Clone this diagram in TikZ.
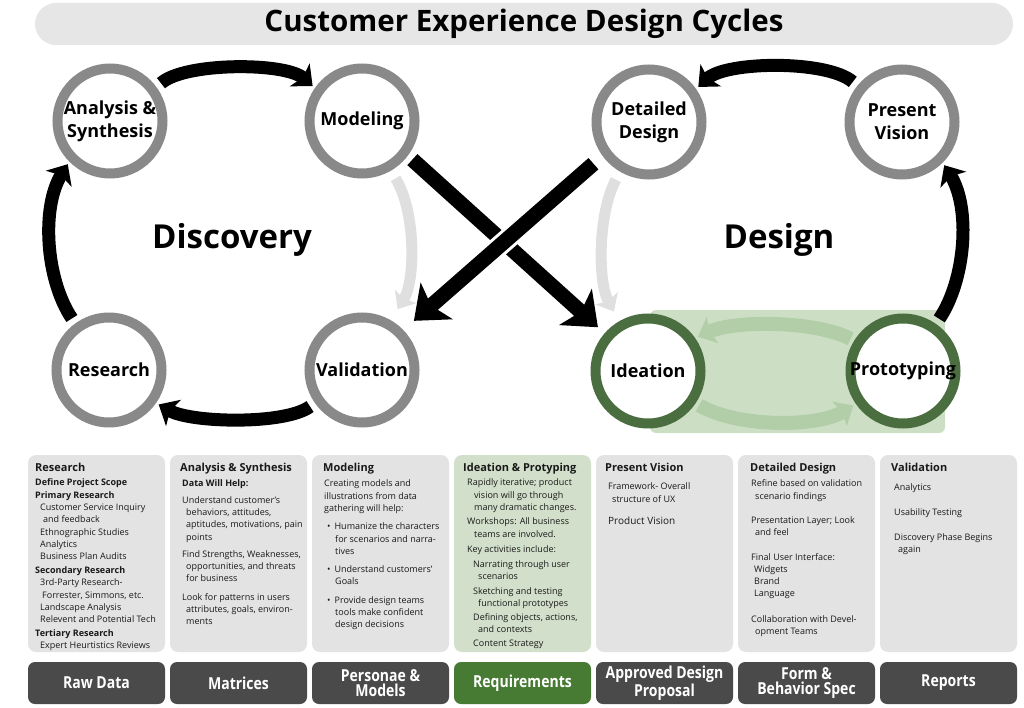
\documentclass[tikz,border=0pt]{standalone}
\usepackage{fontspec}
\setmainfont{Open Sans}
\newfontfamily\narrowfont[FakeStretch=0.85]{Open Sans}
\usetikzlibrary{arrows.meta}
\definecolor{ringgray}{HTML}{898989}
\definecolor{ringgreen}{HTML}{4B6E40}
\definecolor{titlegray}{HTML}{E6E6E6}
\definecolor{panelgray}{HTML}{E3E3E3}
\definecolor{panelgreen}{HTML}{D2E0CB}
\definecolor{boxgreen}{HTML}{CCDFC4}
\definecolor{arrowgreen}{HTML}{B2CEA8}
\definecolor{ghostgray}{HTML}{DFDFDF}
\definecolor{tabgray}{HTML}{4A4A4A}
\definecolor{tabgreen}{HTML}{477A32}
\newcommand\hd[1]{{\bfseries\fontsize{11}{12}\selectfont #1}}

\begin{document}
\begin{tikzpicture}
  [x=1pt,y=-1pt,
   stage/.style={circle,draw=ringgray,line width=10pt,fill=white,minimum size=105pt,
     inner sep=0pt,align=center,font=\bfseries\fontsize{18}{23}\selectfont},
   greenstage/.style={stage,draw=ringgreen},
   flow/.style={line width=13pt,-{Stealth[length=17pt,width=30pt,inset=4pt]},
     shorten <=6pt,shorten >=3pt},
   ghost/.style={draw=ghostgray,line width=11pt,-{Stealth[length=15pt,width=25pt,inset=3pt]}},
   loopback/.style={draw=arrowgreen,line width=14pt,-{Stealth[length=16pt,width=28pt,inset=3pt]},
     shorten <=4pt,shorten >=3pt},
   cross/.style={line width=15pt,-{Stealth[length=30pt,width=48pt,inset=7pt]}},
   phase/.style={font=\bfseries\fontsize{33}{36}\selectfont},
   panel/.style={rounded corners=8pt,fill=panelgray,minimum width=137pt,minimum height=197pt},
   note/.style={anchor=north west,align=left,inner sep=0pt,text=black!90,
     font=\fontsize{9}{12.3}\selectfont},
   tab/.style={rounded corners=7pt,fill=tabgray,minimum width=137pt,minimum height=42pt,
     text=white,align=center,font=\narrowfont\bfseries\fontsize{16.5}{15.5}\selectfont}]
  \useasboundingbox (0,0) rectangle (1024,708);
  \node[rounded corners=21pt,fill=titlegray,minimum width=978pt,minimum height=42pt,
    font=\bfseries\fontsize{29.5}{31}\selectfont] (title) at (524,24) {Customer Experience Design Cycles};
  \fill[boxgreen,rounded corners=6pt] (650,310) rectangle (945,433);
  \node[stage] (an) at (110,121) {Analysis \&\\Synthesis};
  \node[stage] (mo) at (362,121) {Modeling};
  \node[stage] (rs) at (109,370) {Research};
  \node[stage] (va) at (362,370) {\makebox[0pt]{Validation}};
  \node[stage] (dd) at (649,122) {Detailed\\Design};
  \node[stage] (pv) at (902,122) {Present\\Vision};
  \node[greenstage] (id) at (648,371) {Ideation};
  \node[greenstage] (pt) at (903,371) {\makebox[0pt]{Prototyping}};
  \node[phase] (disc) at (232,240) {Discovery};
  \node[phase] (desg) at (779,240) {Design};
  \foreach \from/\to/\ax/\ay/\bx/\by in {an.36/mo.145/28/-25/-30/-26,rs.126/an.225/-30/-45/-28/45,
      va.215/rs.325/-30/22/35/20,pv.141/dd.35/-30/-26/30/-28,pt.55/pv.315/30/-45/28/45}
    \draw[flow] (\from) .. controls +(\ax,\ay) and +(\bx,\by) .. (\to);
  \draw[ghost,shorten <=9pt,shorten >=13pt] (mo.300) .. controls +(25,40) and +(25,-40) .. (va.60);
  \draw[ghost,shorten <=9pt,shorten >=11pt] (dd.240) .. controls +(-22,40) and +(-22,-40) .. (id.120);
  \draw[loopback] (pt.148) .. controls +(-40,-20) and +(40,-18) .. (id.35);
  \draw[loopback] (id.326) .. controls +(40,24) and +(-40,24) .. (pt.215);
  \draw[cross,shorten <=6pt,shorten >=9pt] (mo.323) -- (id.139);
  \draw[white,line width=21pt,shorten <=40pt,shorten >=60pt] (dd.216) -- (va.44);
  \draw[cross,shorten <=12pt,shorten >=14pt] (dd.216) -- (va.44);
  \foreach \n/\x in {p1/96.5,p2/238.5,p3/380.5,p5/664.5,p6/806.5,p7/948.5}
    \node[panel] (\n) at (\x,553.5) {};
  \node[panel,fill=panelgreen] (p4) at (522.5,553.5) {};
  \node[note] (t1) at (35,463) {\hd{Research}\\[2pt]
    \textbf{Define Project Scope}\\
    \textbf{Primary Research}\\
    \hspace*{5pt}Customer Service Inquiry\\
    \hspace*{8pt}and feedback\\
    \hspace*{5pt}Ethnographic Studies\\
    \hspace*{5pt}Analytics\\
    \hspace*{5pt}Business Plan Audits\\[1.5pt]
    \textbf{Secondary Research}\\
    \hspace*{5pt}3rd-Party Research-\\
    \hspace*{7pt}Forrester, Simmons, etc.\\
    \hspace*{5pt}Landscape Analysis\\
    \hspace*{5pt}Relevent and Potential Tech\\[1.5pt]
    \textbf{Tertiary Research}\\
    \hspace*{5pt}Expert Heurtistics Reviews};
  \node[note] (t2) at (180,463) {\hd{Analysis \& Synthesis}\\[3pt]
    \hspace*{2pt}\textbf{Data Will Help:}\\[4pt]
    \hspace*{2pt}Understand customer's\\
    \hspace*{6pt}behaviors, attitudes,\\
    \hspace*{6pt}aptitudes, motivations, pain\\
    \hspace*{6pt}points\\[5pt]
    \hspace*{2pt}Find Strengths, Weaknesses,\\
    \hspace*{6pt}opportunities, and threats\\
    \hspace*{6pt}for business\\[6pt]
    \hspace*{2pt}Look for patterns in users\\
    \hspace*{6pt}attributes, goals, environ-\\
    \hspace*{6pt}ments};
  \node[note] (t3) at (323,463) {\hd{Modeling}\\[3pt]
    \hspace*{1pt}Creating models and\\
    \hspace*{1pt}illustrations from data\\
    \hspace*{1pt}gathering will help:\\[6pt]
    \hspace*{4pt}\textbullet\hspace{4pt}Humanize the characters\\
    \hspace*{12pt}for scenarios and narra-\\
    \hspace*{12pt}tives\\[6pt]
    \hspace*{4pt}\textbullet\hspace{4pt}Understand customers'\\
    \hspace*{12pt}Goals\\[6pt]
    \hspace*{4pt}\textbullet\hspace{4pt}Provide design teams\\
    \hspace*{12pt}tools make confident\\
    \hspace*{12pt}design decisions};
  \node[note] (t4) at (463,463) {\hd{Ideation \& Protyping}\\[2pt]
    \hspace*{4pt}Rapidly iterative; product\\
    \hspace*{11pt}vision will go through\\
    \hspace*{11pt}many dramatic changes.\\[2pt]
    \hspace*{4pt}Workshops: All business\\
    \hspace*{11pt}teams are involved.\\[3pt]
    \hspace*{4pt}Key activities include:\\[3pt]
    \hspace*{10pt}Narrating through user\\
    \hspace*{15pt}scenarios\\[2pt]
    \hspace*{10pt}Sketching and testing\\
    \hspace*{15pt}functional prototypes\\[1.5pt]
    \hspace*{10pt}Defining objects, actions,\\
    \hspace*{15pt}and contexts\\[2pt]
    \hspace*{10pt}Content Strategy};
  \node[note] (t5) at (605,463) {\hd{Present Vision}\\[6pt]
    \hspace*{3pt}Framework- Overall\\
    \hspace*{7pt}structure of UX\\[10pt]
    \hspace*{3pt}{\fontsize{10}{12}\selectfont Product Vision}};
  \node[note] (t6) at (750,463) {\hd{Detailed Design}\\[3pt]
    \hspace*{1pt}Refine based on validation\\
    \hspace*{5pt}scenario findings\\[12pt]
    \hspace*{1pt}Presentation Layer; Look\\
    \hspace*{5pt}and feel\\[12pt]
    \hspace*{1pt}Final User Interface:\\
    \hspace*{4pt}Widgets\\
    \hspace*{4pt}Brand\\
    \hspace*{4pt}Language\\[13pt]
    \hspace*{1pt}Collaboration with Devel-\\
    \hspace*{5pt}opment Teams};
  \node[note] (t7) at (891,463) {\hd{Validation}\\[7pt]
    \hspace*{3pt}Analytics\\[12pt]
    \hspace*{3pt}Usability Testing\\[13pt]
    \hspace*{3pt}Discovery Phase Begins\\
    \hspace*{7pt}again};
  \foreach \n/\x/\c/\lbl in {b1/96.5/tabgray/Raw Data,b2/238.5/tabgray/Matrices,
      b3/380.5/tabgray/{Personae \&\\Models},b4/522.5/tabgreen/Requirements,
      b5/664.5/tabgray/{Approved Design\\Proposal},b6/806.5/tabgray/{Form \&\\Behavior Spec},
      b7/948.5/tabgray/Reports}
    \node[tab,fill=\c] (\n) at (\x,683) {\lbl};
\end{tikzpicture}
\end{document}
